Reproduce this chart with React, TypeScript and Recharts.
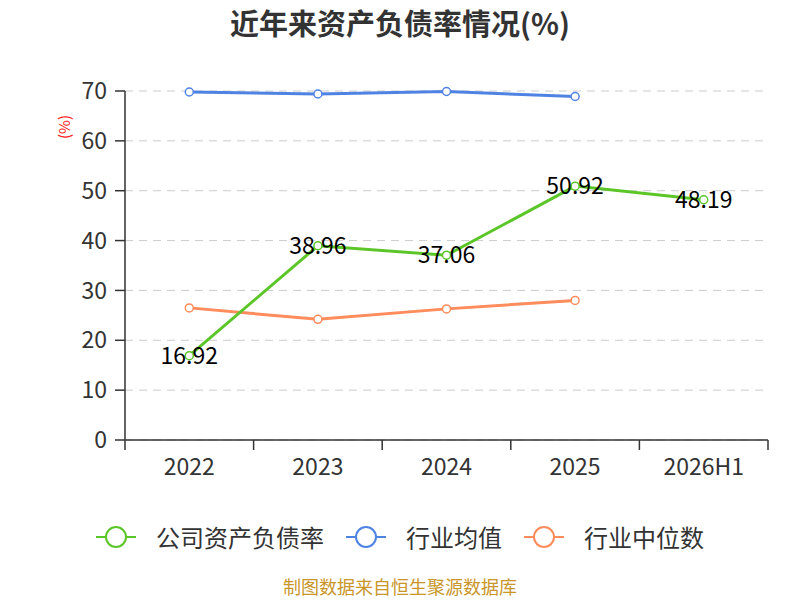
import React from 'react';
import { LineChart, Line, XAxis, YAxis, CartesianGrid, LabelList } from 'recharts';

const years = ['2022', '2023', '2024', '2025', '2026H1'];
const companyRatio = [16.92, 38.96, 37.06, 50.92, 48.19];
const industryMean = [69.8, 69.4, 69.9, 68.9, null];
const industryMedian = [26.5, 24.2, 26.3, 28.0, null];
const yTicks = [0, 10, 20, 30, 40, 50, 60, 70];

const series = [
  { key: 'company', name: '公司资产负债率', color: '#5cc629' },
  { key: 'mean', name: '行业均值', color: '#4f83e3' },
  { key: 'median', name: '行业中位数', color: '#ff8c5c' },
];

const data = years.map((year, i) => ({
  year,
  company: companyRatio[i],
  mean: industryMean[i],
  median: industryMedian[i],
}));

const FONT = '"Noto Sans CJK SC", "Noto Sans", sans-serif';
const PLOT_LEFT = 125;
const PLOT_RIGHT = 768;
const HALF_BAND = (PLOT_RIGHT - PLOT_LEFT) / years.length / 2;

// category label in the middle, tick marks on the band edges
const XTick = (props: any) => {
  const { x, y, payload, index } = props;
  const top = y - 8;
  return (
    <g>
      <line x1={x - HALF_BAND} y1={top} x2={x - HALF_BAND} y2={top + 10} stroke="#333" strokeWidth={1.5} />
      {index === years.length - 1 && (
        <line x1={x + HALF_BAND} y1={top} x2={x + HALF_BAND} y2={top + 10} stroke="#333" strokeWidth={1.5} />
      )}
      <text x={x} y={top + 35} textAnchor="middle" fill="#333" fontSize={23} fontFamily={FONT}>
        {payload.value}
      </text>
    </g>
  );
};

const UnitLabel = (props: any) => {
  const { viewBox } = props;
  const x = viewBox.x + 8;
  const y = viewBox.y + 36;
  return (
    <text x={x} y={y} transform={`rotate(-90 ${x} ${y})`} textAnchor="middle" dominantBaseline="central" fill="#ff2020" fontSize={15} fontFamily={FONT}>
      (%)
    </text>
  );
};

export default function App() {
  return (
    <div style={{ position: 'absolute', left: 0, top: 0, width: 800, height: 600, background: '#fff', fontFamily: FONT }}>
      <div style={{ position: 'absolute', top: 7, width: 800, textAlign: 'center', fontSize: 29, lineHeight: '30px', fontWeight: 'bold', color: '#333' }}>
        近年来资产负债率情况(%)
      </div>

      <LineChart width={800} height={500} data={data} margin={{ top: 91, right: 32, bottom: 0, left: 55 }}>
        <CartesianGrid vertical={false} stroke="#cccccc" strokeDasharray="8 6" />
        <XAxis
          dataKey="year"
          scale="band"
          height={60}
          axisLine={{ stroke: '#333', strokeWidth: 1.5 }}
          tickLine={false}
          tick={<XTick />}
          interval={0}
        />
        <YAxis
          width={70}
          domain={[0, 70]}
          ticks={yTicks}
          interval={0}
          axisLine={{ stroke: '#333', strokeWidth: 1.5 }}
          tickLine={{ stroke: '#333', strokeWidth: 1.5 }}
          tickSize={10}
          tickMargin={8}
          tick={{ fill: '#333', fontSize: 23, fontFamily: FONT }}
          label={<UnitLabel />}
        />
        <Line
          dataKey="mean"
          stroke="#4f83e3"
          strokeWidth={3}
          dot={{ r: 4, fill: '#fff', stroke: '#4f83e3', strokeWidth: 1.5 }}
          isAnimationActive={false}
        />
        <Line
          dataKey="median"
          stroke="#ff8c5c"
          strokeWidth={3}
          dot={{ r: 4, fill: '#fff', stroke: '#ff8c5c', strokeWidth: 1.5 }}
          isAnimationActive={false}
        />
        <Line
          dataKey="company"
          stroke="#5cc629"
          strokeWidth={3}
          dot={{ r: 4, fill: '#fff', stroke: '#5cc629', strokeWidth: 1.5 }}
          isAnimationActive={false}
        >
          <LabelList dataKey="company" position="center" fill="#000" fontSize={23} fontFamily={FONT} formatter={(v: any) => Number(v).toFixed(2)} />
        </Line>
      </LineChart>

      <div style={{ position: 'absolute', top: 522, width: 800, display: 'flex', justifyContent: 'center', gap: 22 }}>
        {series.map(s => (
          <div key={s.key} style={{ display: 'flex', alignItems: 'center', height: 30 }}>
            <svg width={40} height={26}>
              <line x1={0} y1={13} x2={40} y2={13} stroke={s.color} strokeWidth={2} />
              <circle cx={20} cy={13} r={10} fill="#fff" stroke={s.color} strokeWidth={2} />
            </svg>
            <span style={{ marginLeft: 20, fontSize: 24, lineHeight: '30px', color: '#333' }}>{s.name}</span>
          </div>
        ))}
      </div>

      <div style={{ position: 'absolute', top: 575, width: 800, textAlign: 'center', fontSize: 18, lineHeight: '22px', color: '#c9962a' }}>
        制图数据来自恒生聚源数据库
      </div>
    </div>
  );
}
